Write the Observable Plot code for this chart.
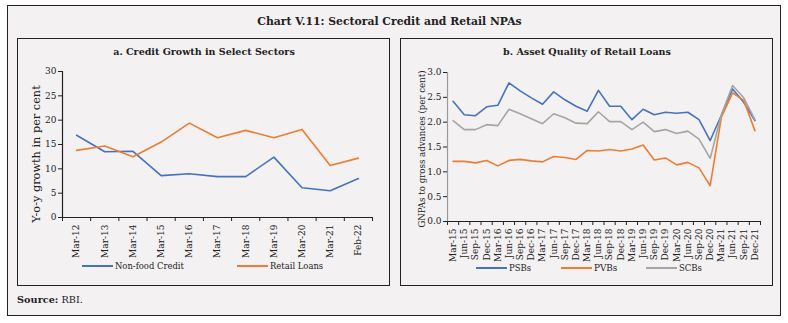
<!DOCTYPE html>
<html>
<head>
<meta charset="utf-8">
<script src="https://cdn.jsdelivr.net/npm/d3@7"></script>
<script src="https://cdn.jsdelivr.net/npm/@observablehq/plot@0.6"></script>
<style>
  html, body { margin: 0; padding: 0; background: #ffffff; }
  #wrap { position: relative; width: 788px; height: 323px; font-family: "DejaVu Serif", serif; color: #222; }
  .abs { position: absolute; }
  #outer { left: 7px; top: 5px; width: 774px; height: 311px; border: 1.5px solid #222; background: #f4f1f2; box-sizing: border-box; }
  .panel { border: 1.2px solid #222; box-sizing: border-box; background: #f4f1f2; }
  .txt { white-space: nowrap; line-height: 1; transform: translate(-50%, -50%); }
  .bold { font-weight: bold; }
  .rot { transform: translate(-50%, -50%) rotate(-90deg); }
  .sw { position: absolute; height: 2px; }
</style>
</head>
<body>
<div id="wrap">
  <div id="outer" class="abs"></div>
  <div class="abs panel" style="left:17px; top:38px; width:373px; height:248px;"></div>
  <div class="abs panel" style="left:400px; top:38px; width:373px; height:248px;"></div>
  <div id="chartA" class="abs" style="left:17px; top:60px;"></div>
  <div id="chartB" class="abs" style="left:400px; top:60px;"></div>
  <div id="texts"></div>
  <div id="legends"></div>
</div>
<script>
// ---- Panel a data ----
const yearsA = ["Mar-12","Mar-13","Mar-14","Mar-15","Mar-16","Mar-17","Mar-18","Mar-19","Mar-20","Mar-21","Feb-22"];
const nonFood = [16.9, 13.5, 13.6, 8.6, 9.0, 8.4, 8.4, 12.4, 6.1, 5.5, 8.0];
const retail  = [13.8, 14.7, 12.5, 15.5, 19.4, 16.4, 17.9, 16.4, 18.1, 10.7, 12.2];
const yTicksA = [0, 5, 10, 15, 20, 25, 30];

// ---- Panel b data ----
const quarters = ["Mar-15","Jun-15","Sep-15","Dec-15","Mar-16","Jun-16","Sep-16","Dec-16","Mar-17","Jun-17","Sep-17","Dec-17","Mar-18","Jun-18","Sep-18","Dec-18","Mar-19","Jun-19","Sep-19","Dec-19","Mar-20","Jun-20","Sep-20","Dec-20","Mar-21","Jun-21","Sep-21","Dec-21"];
const psbs = [2.42,2.15,2.13,2.31,2.34,2.79,2.63,2.49,2.36,2.61,2.45,2.32,2.22,2.64,2.32,2.32,2.05,2.26,2.15,2.20,2.18,2.20,2.05,1.63,2.14,2.67,2.40,2.03];
const pvbs = [1.21,1.21,1.18,1.23,1.12,1.23,1.25,1.22,1.20,1.31,1.29,1.25,1.43,1.42,1.45,1.42,1.46,1.54,1.24,1.28,1.14,1.19,1.08,0.72,2.10,2.59,2.44,1.83];
const scbs = [2.03,1.85,1.85,1.95,1.93,2.26,2.17,2.07,1.97,2.17,2.09,1.98,1.97,2.21,2.01,2.01,1.85,2.00,1.81,1.85,1.77,1.82,1.66,1.27,2.15,2.74,2.49,2.05];
const yTicksB = [0, 0.5, 1.0, 1.5, 2.0, 2.5, 3.0];

// ---- Texts ----
const mainTitle = "Chart V.11: Sectoral Credit and Retail NPAs";
const titleA = "a. Credit Growth in Select Sectors";
const titleB = "b. Asset Quality of Retail Loans";
const yLabelA = "Y-o-y growth in per cent";
const yLabelB = "GNPAs to gross advances (per cent)";

const BLUE = "#4472C4", ORANGE = "#ED7D31", GREY = "#A5A5A5";
const seriesA = [{name: "Non-food Credit", values: nonFood, color: BLUE}, {name: "Retail Loans", values: retail, color: ORANGE}];
const seriesB = [{name: "PSBs", values: psbs, color: BLUE}, {name: "PVBs", values: pvbs, color: ORANGE}, {name: "SCBs", values: scbs, color: GREY}];

function rows(series) {
  return series.flatMap(s => s.values.map((v, i) => ({i, v, name: s.name})));
}

const font = {fontFamily: "DejaVu Serif", fontSize: "9px", background: "transparent", color: "#222", overflow: "visible"};

function makeChart(cats, series, yDomain, yTicks, yFmt, m, axisColor) {
  const n = cats.length;
  const idx = d3.range(n);
  const bounds = d3.range(n + 1).map(k => k - 0.5);
  return Plot.plot({
    width: 373, height: 200,
    marginLeft: m[0], marginRight: m[1], marginTop: m[2], marginBottom: m[3],
    style: font,
    x: {type: "linear", domain: [-0.5, n - 0.5]},
    y: {domain: yDomain},
    color: {domain: series.map(s => s.name), range: series.map(s => s.color)},
    marks: [
      Plot.ruleX([-0.5], {stroke: axisColor, strokeWidth: 1.2}),
      Plot.axisY({ticks: yTicks, tickFormat: yFmt, tickSize: 4, tickPadding: 2, label: null, fontSize: 9}),
      Plot.axisX({ticks: idx, tickFormat: i => cats[i], tickRotate: -90, tickSize: 0, tickPadding: 7, label: null, fontSize: 9}),
      Plot.axisX({ticks: bounds, tickFormat: () => "", tickSize: 4, label: null}),
      Plot.line(rows(series), {x: "i", y: "v", z: "name", stroke: "name", strokeWidth: 1.6}),
      Plot.ruleY([yDomain[0]], {stroke: "#222", strokeWidth: 1.2})
    ]
  });
}

document.getElementById("chartA").append(
  makeChart(yearsA, seriesA, [0, 30], yTicksA, d => String(d), [45, 18, 11, 43], "#222"));
document.getElementById("chartB").append(
  makeChart(quarters, seriesB, [0, 3], yTicksB, d3.format(".1f"), [47, 13, 12, 39], "#9a9a9a"));

// text placement: [html, centerX, centerY, targetWidth, bold, rotated]
const wrap = document.getElementById("texts");
function placeText(html, cx, cy, w, bold, rot) {
  const el = document.createElement("div");
  el.className = "abs txt" + (bold ? " bold" : "") + (rot ? " rot" : "");
  el.style.left = cx + "px"; el.style.top = cy + "px";
  el.style.fontSize = "10px";
  el.innerHTML = html;
  wrap.append(el);
  const cur = el.offsetWidth;
  el.style.fontSize = (10 * w / cur).toFixed(2) + "px";
  return el;
}
placeText(mainTitle, 389.5, 22, 265, true, false);
placeText(titleA, 204, 52, 182, true, false);
placeText(titleB, 587, 52, 168, true, false);
placeText(yLabelA, 37, 154, 138, false, true);
placeText(yLabelB, 421.5, 148.5, 157, false, true);
placeText("<b>Source:</b> RBI.", 50, 300, 66, false, false);

// legends
const legWrap = document.getElementById("legends");
function legendItem(s, x0, y, w) {
  const sw = document.createElement("div");
  sw.className = "sw"; sw.style.left = x0 + "px"; sw.style.top = (y - 1) + "px"; sw.style.width = "31px";
  sw.style.background = s.color;
  legWrap.append(sw);
  const el = placeText(s.name, 0, y, w, false, false);
  el.style.transform = "translate(0, -50%)";
  el.style.left = (x0 + 33) + "px";
}
legendItem(seriesA[0], 82, 265.5, 69);
legendItem(seriesA[1], 237, 265.5, 53);
legendItem(seriesB[0], 476, 268, 22);
legendItem(seriesB[1], 561, 268, 23);
legendItem(seriesB[2], 646, 268, 23);
</script>
</body>
</html>
